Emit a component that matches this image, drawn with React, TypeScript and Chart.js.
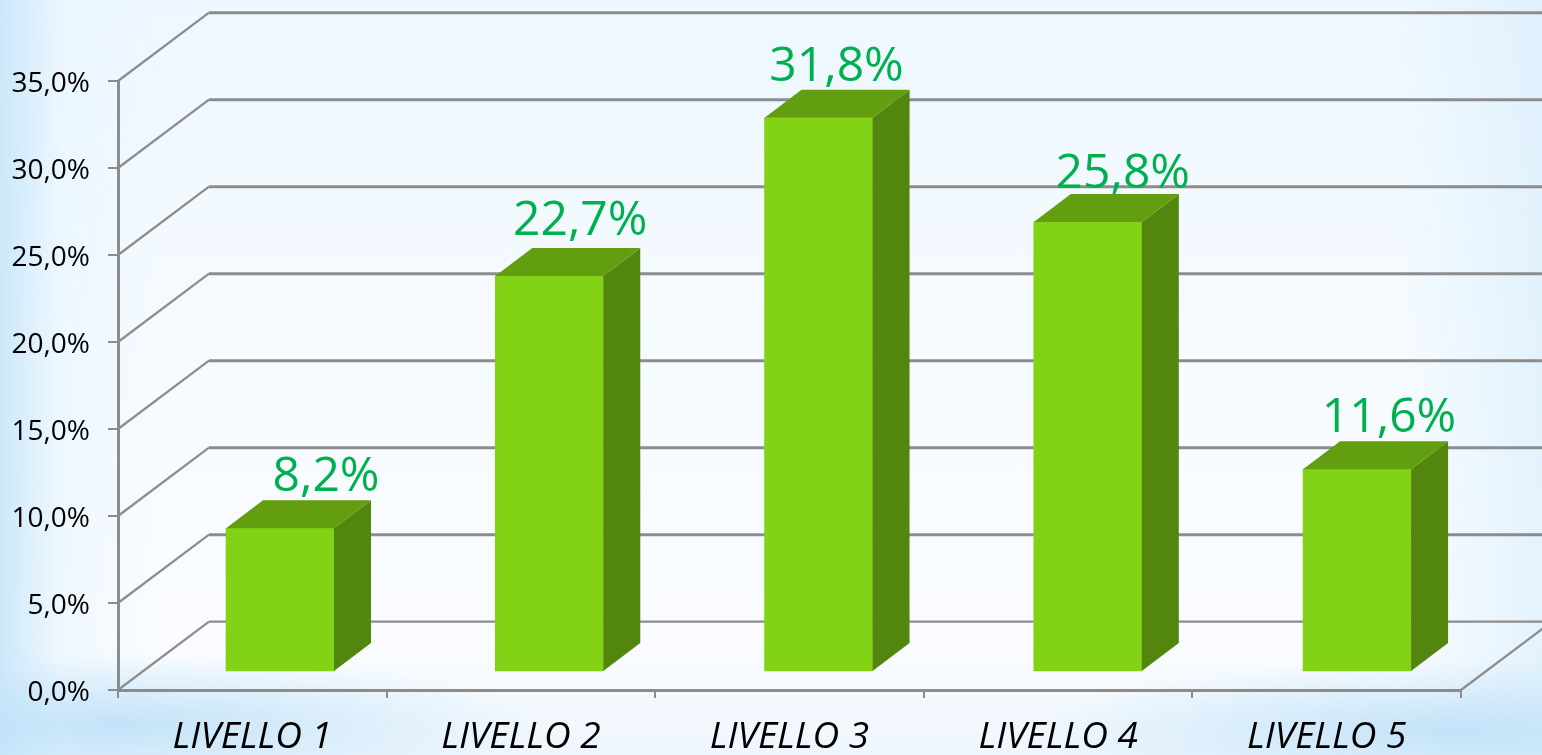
import React, { useEffect, useRef } from "react";
import { Chart, registerables } from "chart.js";

Chart.register(...registerables);

const categories = ["LIVELLO 1", "LIVELLO 2", "LIVELLO 3", "LIVELLO 4", "LIVELLO 5"];
const shares = [8.2, 22.7, 31.8, 25.8, 11.6];
const shareLabels = ["8,2%", "22,7%", "31,8%", "25,8%", "11,6%"];

// layout of the pseudo-3D projection
const WALL_DX = 91;
const WALL_DY = -68.3;
const BAR_DX = 37;
const BAR_DY = -28;
const LABEL_NUDGE_X = [46, 31, 18, 35, 32];
const LABEL_LIFT = [37, 41, 37, 34, 37];
const FONT = '"Open Sans", sans-serif';
const GRID = "#8c8c8c";

const depthPlugin = {
  id: "depth",
  beforeDatasetsDraw(chart: any) {
    const { ctx, chartArea } = chart;
    const y = chart.scales.y;
    ctx.save();
    ctx.strokeStyle = GRID;
    for (const tick of y.ticks) {
      const py = y.getPixelForValue(tick.value);
      ctx.lineWidth = 2.2;
      ctx.beginPath();
      ctx.moveTo(chartArea.left, py);
      ctx.lineTo(chartArea.left + WALL_DX, py + WALL_DY);
      ctx.stroke();
      ctx.lineWidth = tick.value === 0 ? 2.2 : 3;
      ctx.beginPath();
      ctx.moveTo(chartArea.left + WALL_DX, py + WALL_DY);
      ctx.lineTo(chart.width, py + WALL_DY);
      ctx.stroke();
    }
    const floor = y.getPixelForValue(0);
    ctx.lineWidth = 2.2;
    ctx.beginPath();
    ctx.moveTo(chartArea.right, floor);
    ctx.lineTo(chartArea.right + WALL_DX, floor + WALL_DY);
    ctx.stroke();
    ctx.restore();
  },
  afterDatasetsDraw(chart: any) {
    const { ctx } = chart;
    const bars = chart.getDatasetMeta(0).data;
    ctx.save();
    bars.forEach((bar: any, i: number) => {
      const right = bar.x + bar.width / 2;
      const left = bar.x - bar.width / 2;
      ctx.fillStyle = "#53860e";
      ctx.beginPath();
      ctx.moveTo(right, bar.y);
      ctx.lineTo(right + BAR_DX, bar.y + BAR_DY);
      ctx.lineTo(right + BAR_DX, bar.base + BAR_DY);
      ctx.lineTo(right, bar.base);
      ctx.closePath();
      ctx.fill();
      ctx.fillStyle = "#639e10";
      ctx.beginPath();
      ctx.moveTo(left, bar.y);
      ctx.lineTo(left + BAR_DX, bar.y + BAR_DY);
      ctx.lineTo(right + BAR_DX, bar.y + BAR_DY);
      ctx.lineTo(right, bar.y);
      ctx.closePath();
      ctx.fill();
      ctx.fillStyle = "#00b050";
      ctx.font = `48px ${FONT}`;
      ctx.textAlign = "center";
      ctx.textBaseline = "alphabetic";
      ctx.fillText(shareLabels[i], bar.x + LABEL_NUDGE_X[i], bar.y - LABEL_LIFT[i]);
    });
    ctx.restore();
  },
};

export default function App() {
  const ref = useRef<HTMLCanvasElement>(null);
  useEffect(() => {
    document.body.style.margin = "0";
    const chart = new Chart(ref.current!, {
      type: "bar",
      data: {
        labels: categories,
        datasets: [
          {
            data: shares.map((v, i) => ({ x: i, y: v })),
            xAxisID: "xBar",
            yAxisID: "yBar",
            backgroundColor: "#82d316",
            barThickness: 108,
          },
        ],
      },
      options: {
        animation: false,
        responsive: false,
        layout: { padding: { top: 81, right: 81, left: 0, bottom: 0 } },
        plugins: { legend: { display: false }, tooltip: { enabled: false } },
        scales: {
          x: {
            type: "category",
            labels: categories,
            offset: true,
            afterFit: (s: any) => { s.height = 65; },
            border: { color: GRID, width: 3 },
            grid: { offset: true, drawOnChartArea: false, color: GRID, lineWidth: 2, tickLength: 8 },
            ticks: { color: "#000", font: { family: FONT, size: 37, style: "italic" }, padding: 17, maxRotation: 0, autoSkip: false },
          },
          y: {
            min: 0,
            max: 35,
            afterFit: (s: any) => { s.width = 118; },
            border: { color: GRID, width: 3 },
            grid: { drawOnChartArea: false, color: GRID, lineWidth: 2, tickLength: 10 },
            ticks: {
              stepSize: 5,
              color: "#000",
              font: { family: FONT, size: 28 },
              padding: 18,
              labelOffset: 3,
              callback: (v: any) => Number(v).toFixed(1).replace(".", ",") + "%",
            },
          },
          xBar: { type: "linear", display: false, offset: false, min: -0.6017, max: 4.386 },
          yBar: { type: "linear", display: false, min: -1.09, max: 33.91 },
        },
      },
      plugins: [depthPlugin],
    } as any);
    return () => chart.destroy();
  }, []);
  return (
    <div
      style={{
        position: "fixed",
        inset: 0,
        overflow: "hidden",
        background: [
          "radial-gradient(ellipse 420px 70px at 120px 725px, rgba(190,225,248,0.9), rgba(190,225,248,0))",
          "radial-gradient(ellipse 420px 70px at 1450px 730px, rgba(190,225,248,0.9), rgba(190,225,248,0))",
          "linear-gradient(90deg, rgba(200,230,250,0.9) 0px, rgba(232,245,255,0.6) 60px, rgba(240,248,255,0) 160px)",
          "linear-gradient(270deg, rgba(218,238,252,0.7) 0px, rgba(240,248,255,0) 140px)",
          "linear-gradient(180deg, #eef7ff 0%, #f6fbff 50%, #fafcff 85%, #eef6fd 100%)",
        ].join(","),
      }}
    >
      <canvas ref={ref} width={1542} height={755} style={{ display: "block" }} />
    </div>
  );
}
